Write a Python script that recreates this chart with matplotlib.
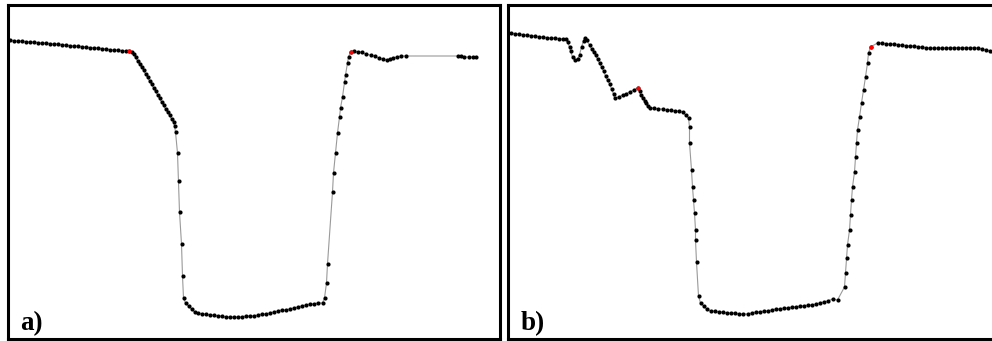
import matplotlib
matplotlib.use("Agg")
import matplotlib.pyplot as plt

# profile a) -- distance along panel, depth (read off the picture)
dist_a = [2, 6, 10, 14, 18, 22, 26, 30, 34, 38, 42, 46, 50, 54, 58, 62, 66, 70, 74, 78,
          82, 86, 90, 94, 98, 102, 106, 110, 114, 118, 121,
          124, 126, 128, 130, 132, 134, 136, 138, 140, 142, 144, 146, 148, 150, 152, 154,
          156, 158, 160, 162, 164, 166, 167, 168,
          170, 171, 172, 174, 175, 176,
          178, 181, 184, 187, 190, 194, 198, 202, 206, 210, 214, 218, 222, 226, 230, 234,
          238, 242, 246, 250, 254, 258, 262, 266, 270, 274, 278, 282, 286, 290, 294, 298,
          302, 306, 310, 315,
          317, 319, 320, 325, 326, 328, 330, 332, 333, 335, 337, 338, 340, 341, 343,
          346, 350, 354, 358, 363, 367, 371, 375, 379, 382, 385, 389, 393, 398,
          450, 453, 456, 461, 465, 468]
depth_a = [35, 35.5, 36, 36, 36.5, 37, 37, 37.5, 38, 38, 38.5, 39, 39, 39.5, 40, 40.5, 41, 41, 41.5, 42,
           42.5, 42.5, 43, 43.5, 44, 44.5, 45, 45, 45.5, 46, 46,
           47, 49, 52, 56, 59, 62, 65, 69, 72, 76, 79, 83, 86, 90, 93, 97,
           100, 104, 107, 110, 114, 117, 121, 127,
           148, 176, 207, 239, 271, 293,
           298, 301, 304, 307, 308, 309, 309, 310, 310, 311, 311, 312, 312, 312, 312, 312,
           311, 311, 311, 310, 309, 309, 308, 307, 306, 305, 305, 304, 303, 302, 301, 300,
           299, 299, 298, 298,
           293, 278, 259, 187, 168, 148, 128, 112, 103, 92, 77, 70, 58, 52, 47,
           46, 47, 47, 49, 50, 51, 53, 54, 55, 54, 53, 52, 51, 51,
           51, 51, 52, 52, 52, 52]
red_a = [121, 343]

# profile b)
dist_b = [3, 7, 11, 15, 19, 23, 27, 31, 35, 39, 43, 47, 51, 55, 58,
          60, 62, 63, 65, 67, 70, 72, 74, 76, 77, 79, 82, 84, 86, 88, 90, 92, 94, 96, 98,
          100, 102, 104, 106, 107, 111, 115, 118, 122, 126, 130,
          132, 133, 135, 137, 138, 140, 142, 146, 150, 155, 159, 163, 167, 171, 175,
          178, 181, 182,
          182, 184, 185, 186, 187, 188, 188, 189, 191,
          193, 196, 199, 203, 207, 211, 215, 219, 223, 227, 231, 235, 240, 244, 248, 252,
          256, 260, 264, 268, 272, 276, 280, 284, 288, 292, 296, 300, 304, 308, 312, 316,
          320, 325, 330,
          337, 338, 339, 340, 342, 343, 344, 345, 347, 348, 349, 350, 352, 354, 356, 358,
          360, 361, 363,
          370, 374, 378, 382, 386, 390, 394, 398, 402, 406, 410, 414, 418, 422, 426, 430,
          434, 438, 442, 446, 450, 454, 458, 462, 466, 470, 474, 478, 482, 485]
depth_b = [28, 28.5, 29, 29.5, 30, 30.5, 31, 31.5, 32, 32.5, 33, 33, 33.5, 34, 34,
           37, 42, 46, 52, 55, 54, 50, 42, 36, 33, 35, 40, 44, 47, 50, 54, 58, 62, 66, 71,
           75, 79, 84, 89, 93, 92, 90, 89, 87, 85, 83,
           86, 90, 93, 96, 98, 101, 103, 103, 104, 104, 105, 105, 106, 106, 107,
           110, 113, 122,
           138, 165, 182, 195, 208, 225, 235, 257, 291,
           298, 301, 304, 306, 306, 307, 307, 308, 308, 308, 309, 309, 309, 308, 307, 307,
           306, 306, 305, 304, 304, 303, 303, 302, 302, 301, 301, 300, 300, 299, 298, 297,
           296, 294, 295,
           282, 268, 253, 240, 225, 210, 195, 182, 167, 152, 138, 125, 112, 98, 85, 72,
           58, 48, 42,
           38, 38, 38.5, 39, 39, 39.5, 40, 40.5, 41, 41, 41.5, 42, 42.5, 43, 43, 43,
           43, 43, 42.5, 42.5, 42.5, 42.5, 42.5, 42.5, 42.5, 43, 44, 45, 46, 47]
red_b = [130, 363]

W, H = 992, 341
fig = plt.figure(figsize=(W / 100, H / 100), dpi=100)

ax_a = fig.add_axes([7.5 / W, 2.5 / H, 492 / W, 333.5 / H])
ax_b = fig.add_axes([507.5 / W, 2.5 / H, 492 / W, 333.5 / H])

panels = [
    (ax_a, dist_a, depth_a, red_a, "a)"),
    (ax_b, dist_b, depth_b, red_b, "b)"),
]

for ax, d, z, reds, label in panels:
    ax.plot(d, z, color="#9a9a9a", lw=0.8, zorder=1)
    ax.plot(d, z, ls="none", marker="o", ms=3.0, mfc="black", mec="black",
            mew=0, zorder=2)
    rx = [d[i] for i in range(len(d)) if d[i] in reds]
    rz = [z[i] for i in range(len(d)) if d[i] in reds]
    ax.plot(rx, rz, ls="none", marker="o", ms=3.0, mfc="red", mec="red", mew=0,
            zorder=3)
    ax.set_xlim(0, 492)
    ax.set_ylim(333.5, 0)
    ax.set_xticks([])
    ax.set_yticks([])
    for sp in ax.spines.values():
        sp.set_linewidth(2.2)
        sp.set_color("black")
    ax.text(13 / 492, 8.5 / 333.5, label, transform=ax.transAxes,
            fontsize=19.5, fontweight="bold", family="Liberation Serif",
            ha="left", va="baseline")

ax_b.spines["right"].set_visible(False)

fig.savefig("out.png", dpi=100)
